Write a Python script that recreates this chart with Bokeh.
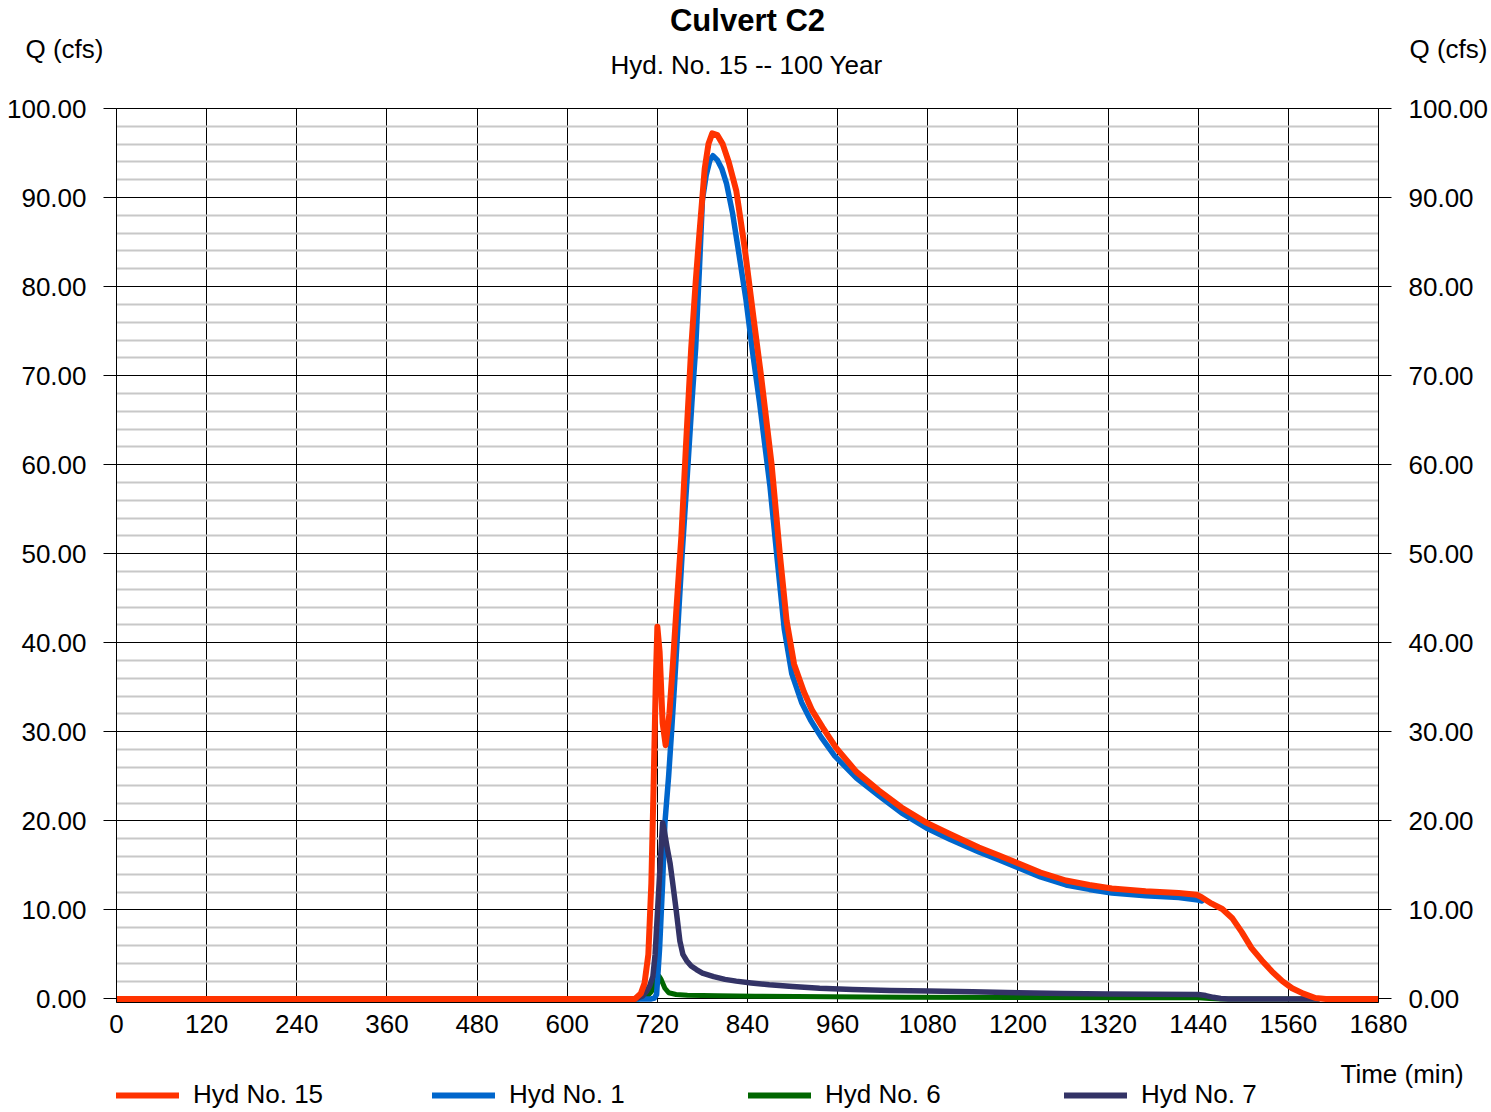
from bokeh.plotting import figure
from bokeh.layouts import column
from bokeh.models import (Range1d, LinearAxis, FixedTicker, PrintfTickFormatter,
                          Legend, LegendItem)
from bokeh.core.properties import value
from bokeh.embed import file_html
from bokeh.resources import INLINE

# ---------------- data ----------------
x_ticks = [0, 120, 240, 360, 480, 600, 720, 840, 960, 1080, 1200, 1320, 1440, 1560, 1680]
y_ticks = [0, 10, 20, 30, 40, 50, 60, 70, 80, 90, 100]
y_minor = [v for v in range(0, 101, 2) if v % 10 != 0]

title_text = "Culvert C2"
subtitle_text = "Hyd. No. 15 -- 100 Year"
y_title = "Q (cfs)"
x_title = "Time (min)"
series_names = ["Hyd No. 15", "Hyd No. 1", "Hyd No. 6", "Hyd No. 7"]
series_colors = ["#FF3300", "#0066CC", "#006600", "#333366"]

t15 = [0, 690, 698, 703, 708, 712, 715, 718, 720, 723, 727, 731, 736, 741, 745, 752, 758,
       765, 771, 776, 783, 788, 793, 800, 807, 815, 825, 836, 848, 858, 872, 883, 892, 902,
       915, 926, 940, 958, 985, 1015, 1045, 1078, 1110, 1148, 1175, 1201, 1230, 1264, 1295,
       1325, 1370, 1414, 1438, 1445, 1458, 1472, 1485, 1498, 1511, 1525, 1538, 1552, 1565,
       1580, 1596, 1610, 1680]
q15 = [0, 0, 0.6, 1.8, 5.0, 13.0, 24.0, 36.0, 41.8, 39.0, 31.0, 28.5, 32.0, 38.0, 43.3, 52.0,
       62.0, 73.0, 80.5, 86.0, 93.2, 96.0, 97.2, 97.0, 96.0, 94.0, 90.8, 84.5, 76.5, 70.0,
       60.1, 50.0, 42.5, 37.6, 34.5, 32.4, 30.5, 28.2, 25.5, 23.4, 21.5, 19.8, 18.5, 17.0,
       16.1, 15.2, 14.2, 13.3, 12.8, 12.4, 12.1, 11.9, 11.7, 11.4, 10.7, 10.1, 9.1, 7.5, 5.7,
       4.3, 3.1, 2.0, 1.2, 0.6, 0.1, 0, 0]

t1 = [0, 705, 712, 716, 719, 723, 727, 730, 735, 739, 743, 747, 753, 760, 766, 771, 776,
      780, 785, 790, 794, 800, 806, 812, 820, 828, 838, 847, 856, 870, 880, 889, 899, 912,
      924, 938, 956, 985, 1015, 1045, 1078, 1110, 1148, 1175, 1201, 1230, 1264, 1295,
      1325, 1370, 1414, 1440, 1445]
q1 = [0, 0, 0, 0.1, 0.5, 5.7, 13.0, 19.7, 25.0, 30.1, 35.5, 41.3, 50.0, 59.0, 67.0, 73.1,
      82.0, 89.7, 92.5, 94.2, 94.7, 94.2, 93.2, 91.6, 88.3, 84.0, 78.5, 72.5, 67.0, 57.5,
      49.0, 41.5, 36.5, 33.3, 31.3, 29.4, 27.3, 24.8, 22.8, 20.9, 19.2, 17.9, 16.5,
      15.6, 14.7, 13.7, 12.8, 12.3, 11.9, 11.6, 11.4, 11.1, 11.0]

t6 = [0, 695, 705, 712, 717, 720, 722, 725, 730, 735, 745, 760, 800, 850, 950, 1050, 1200,
      1350, 1440, 1455, 1470, 1600]
q6 = [0, 0, 0.2, 0.8, 1.8, 2.4, 2.6, 2.2, 1.2, 0.7, 0.5, 0.42, 0.35, 0.3, 0.25, 0.2, 0.16,
      0.13, 0.12, 0.05, 0, 0]

t7 = [0, 690, 700, 706, 710, 714, 717, 720, 723, 725, 727, 729, 733, 737, 740, 745, 750,
      754, 759, 765, 772, 780, 795, 810, 825, 845, 869, 900, 936, 980, 1030, 1080, 1140,
      1200, 1260, 1320, 1380, 1440, 1450, 1460, 1470, 1480, 1600]
q7 = [0, 0, 0.3, 0.9, 1.5, 2.5, 5.0, 9.5, 14.0, 17.0, 19.8, 19.0, 17.0, 15.2, 13.3, 10.0,
      6.5, 5.0, 4.3, 3.7, 3.3, 2.9, 2.5, 2.2, 2.0, 1.8, 1.6, 1.4, 1.2, 1.05, 0.95, 0.9, 0.8,
      0.7, 0.62, 0.55, 0.52, 0.5, 0.38, 0.18, 0.05, 0, 0]

FONT = "Liberation Sans"
FS = "26px"
W = 1491
NAN = float("nan")


def bare(height):
    """Figure with no axes; y measured downwards in pixels inside its frame."""
    f = figure(width=W, height=height, x_range=Range1d(116, 1380), y_range=Range1d(height, 0),
               x_axis_type=None, y_axis_type=None, output_backend="svg",
               toolbar_location=None, min_border=0, min_border_left=0,
               min_border_right=0, min_border_top=0, min_border_bottom=0,
               background_fill_color="white", border_fill_color="white")
    f.outline_line_color = None
    f.grid.visible = False
    return f


def text_axis(pos, label, standoff):
    """An axis with a single labelled tick, used for an axis title."""
    ax = LinearAxis(ticker=FixedTicker(ticks=[pos]), major_label_overrides={pos: label})
    ax.axis_line_color = None
    ax.major_tick_line_color = None
    ax.minor_tick_line_color = None
    ax.major_tick_out = 0
    ax.major_tick_in = 0
    ax.major_label_standoff = standoff
    ax.major_label_text_font = FONT
    ax.major_label_text_font_size = FS
    ax.major_label_text_color = "black"
    return ax


# ---------------- header: title, subtitle, "Q (cfs)" ----------------
head = bare(80)
head.text(x=[748], y=[20], text=[title_text], text_font=value(FONT),
          text_font_size="31px", text_font_style="bold", text_align="center",
          text_baseline="middle", text_color="black")
head.text(x=[747], y=[64], text=[subtitle_text], text_font=value(FONT),
          text_font_size=FS, text_align="center", text_baseline="middle",
          text_color="black")
head.add_layout(text_axis(48, y_title, 13), "left")
head.add_layout(text_axis(48, y_title, 31), "right")

# ---------------- main chart ----------------
p = figure(width=W, height=966,
           x_range=Range1d(0, 1680), y_range=Range1d(-0.4, 100),
           output_backend="svg", toolbar_location=None,
           min_border_left=116, min_border_right=111,
           min_border_top=28, min_border_bottom=44,
           background_fill_color="white", border_fill_color="white")
p.outline_line_color = "black"
p.outline_line_width = 1

xticker = FixedTicker(ticks=x_ticks)
yticker = FixedTicker(ticks=y_ticks, minor_ticks=y_minor)

p.xgrid.ticker = xticker
p.xgrid.grid_line_color = "black"
p.xgrid.grid_line_width = 1
p.ygrid.ticker = yticker
p.ygrid.grid_line_color = "black"
p.ygrid.grid_line_width = 1
p.ygrid.minor_grid_line_color = "#C8C8C8"
p.ygrid.minor_grid_line_width = 2

xa = p.xaxis[0]
xa.ticker = xticker
xa.axis_line_color = None
xa.major_tick_out = 0
xa.major_tick_in = 0
xa.minor_tick_line_color = None
xa.major_label_standoff = 12
xa.major_label_text_font = FONT
xa.major_label_text_font_size = FS
xa.major_label_text_color = "black"


def style_y(ax):
    ax.ticker = yticker
    ax.formatter = PrintfTickFormatter(format="%.2f")
    ax.axis_line_color = "black"
    ax.major_tick_line_color = "black"
    ax.major_tick_out = 13
    ax.major_tick_in = 0
    ax.minor_tick_line_color = None
    ax.major_label_standoff = 17
    ax.major_label_text_font = FONT
    ax.major_label_text_font_size = FS
    ax.major_label_text_color = "black"


style_y(p.yaxis[0])
ry = LinearAxis()
style_y(ry)
p.add_layout(ry, "right")

LW = [6, 5.5, 5, 5.5]
r6 = p.line(t6, q6, line_color=series_colors[2], line_width=LW[2], line_join="round", line_cap="round")
r1 = p.line(t1, q1, line_color=series_colors[1], line_width=LW[1], line_join="round", line_cap="round")
r7 = p.line(t7, q7, line_color=series_colors[3], line_width=LW[3], line_join="round", line_cap="round")
r15 = p.line(t15, q15, line_color=series_colors[0], line_width=LW[0], line_join="round", line_cap="round")

# ---------------- footer: legend + "Time (min)" ----------------
foot = bare(66)
items = []
for name, col in zip(series_names, series_colors):
    # legend-key renderer: same style as the series, no visible data of its own
    r = foot.line(x=[NAN], y=[NAN], line_color=col, line_width=6, line_cap="round")
    items.append(LegendItem(label=name, renderers=[r]))
legend = Legend(items=items, orientation="horizontal", location=(0, 2),
                glyph_width=63, glyph_height=30, label_height=30,
                label_standoff=14, label_width=220, spacing=19,
                padding=0, margin=0, border_line_color=None,
                background_fill_alpha=0,
                label_text_font=FONT, label_text_font_size=FS,
                label_text_color="black")
foot.add_layout(legend, "center")
foot.add_layout(text_axis(27, x_title, -38), "right")

page = column(head, p, foot, spacing=0)
open("out.html", "w").write(file_html(page, INLINE))
